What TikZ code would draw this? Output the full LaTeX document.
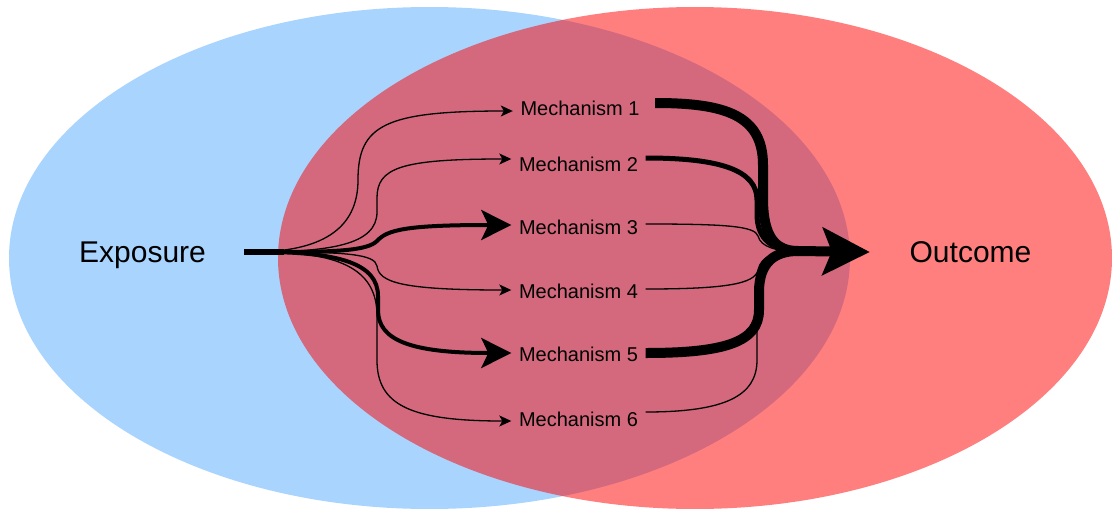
\documentclass[tikz,border=0pt]{standalone}
\usepackage{fontspec}
\setmainfont{Liberation Sans}
\usetikzlibrary{arrows.meta}
\definecolor{setblue}{RGB}{169,212,254}
\definecolor{setred}{RGB}{255,0,0}
\begin{document}
\begin{tikzpicture}[x=1pt,y=-1pt,
  lbl/.style={inner sep=0pt, text depth=0pt},
  mech/.style={lbl, font=\fontsize{20}{24}\selectfont, text height=14.3pt, minimum width=134pt},
  big/.style={lbl, font=\fontsize{30}{36}\selectfont, text height=21.5pt},
  thinarrow/.style={line width=1.3pt, -{Stealth[length=12pt,width=11pt,inset=3pt]}},
  thickarrow/.style={line width=4pt, -{Stealth[length=30pt,width=30pt,inset=7pt]}},
  thinline/.style={line width=1.3pt},
  midline/.style={line width=5pt},
  heavyline/.style={line width=10pt},
  bigarrow/.style={line width=10pt, -{Stealth[length=47pt,width=47pt,inset=9pt]}}
]
\useasboundingbox (0,0) rectangle (1112,509);
\fill[setblue] (429.5,258) ellipse [x radius=420.5pt, y radius=251pt];
\fill[setred, opacity=0.5] (695,258) ellipse [x radius=417pt, y radius=251pt];

\node[big, minimum width=203pt] (exposure) at (142.5,252) {Exposure};
\node[big, minimum width=201pt] (outcome) at (970.5,252) {Outcome};

\node[mech] (m1) at (580,108) {Mechanism 1};
\node[mech] (m2) at (578.5,164) {Mechanism 2};
\node[mech] (m3) at (578.5,227.5) {Mechanism 3};
\node[mech] (m4) at (578.5,291) {Mechanism 4};
\node[mech] (m5) at (578.5,354.5) {Mechanism 5};
\node[mech] (m6) at (578.5,419) {Mechanism 6};

\coordinate (merge) at (798,251);

% exposure stub
\draw[line width=6.5pt] (exposure.east) -- ++(40,0) coordinate (fork);

% branches to mechanisms
\draw[thinarrow] (exposure.east) -- (252,252) .. controls (320,252) and (358,230) .. (358,180) .. controls (358,125) and (385,111) .. ([shift={(0,3)}]m1.west);
\draw[thinarrow] (exposure.east) -- (252,252) .. controls (330,252) and (377,245) .. (377,212) -- (377,198) .. controls (377,168) and (400,159) .. ([shift={(0,-5)}]m2.west);
\draw[thickarrow] (exposure.east) -- (280,252) .. controls (340,252) and (368,250) .. (377,241) .. controls (387,230) and (405,225) .. ([shift={(0,-2.5)}]m3.west);
\draw[thinarrow] (exposure.east) -- (272,252) .. controls (345,252) and (375,254) .. (377,266) .. controls (379,282) and (400,290) .. ([shift={(0,-1)}]m4.west);
\draw[thickarrow] (exposure.east) -- (262,252) .. controls (340,252) and (378,264) .. (378,296) -- (378,310) .. controls (378,340) and (410,353) .. ([shift={(0,-1.5)}]m5.west);
\draw[thinarrow] (exposure.east) -- (262,252) .. controls (345,252) and (377,272) .. (377,316) -- (377,360) .. controls (377,405) and (410,421) .. ([shift={(0,2)}]m6.west);

% mechanisms to outcome
\draw[heavyline] ([shift={(8,-5)}]m1.east) .. controls (725,103) and (763,115) .. (763,165) -- (763,198) .. controls (763,238) and (776,251) .. (merge);
\draw[midline] ([shift={(0,-6)}]m2.east) .. controls (720,158) and (757,170) .. (757,200) -- (757,214) .. controls (757,240) and (773,251) .. (merge);
\draw[thinline] ([shift={(0,-3.5)}]m3.east) .. controls (725,224) and (755,226) .. (758,236) .. controls (761,247) and (775,251) .. (merge);
\draw[thinline] ([shift={(0,-2)}]m4.east) .. controls (725,289) and (755,284) .. (758,270) .. controls (761,256) and (775,251) .. (merge);
\draw[heavyline] ([shift={(0,-1.5)}]m5.east) .. controls (725,353) and (759,342) .. (759,310) -- (759,292) .. controls (759,262) and (775,251) .. (merge);
\draw[thinline] ([shift={(0,-7)}]m6.east) .. controls (725,412) and (757,396) .. (757,360) -- (757,290) .. controls (757,262) and (775,251) .. (merge);

\draw[bigarrow] (merge) -- (outcome.west);
\end{tikzpicture}
\end{document}
